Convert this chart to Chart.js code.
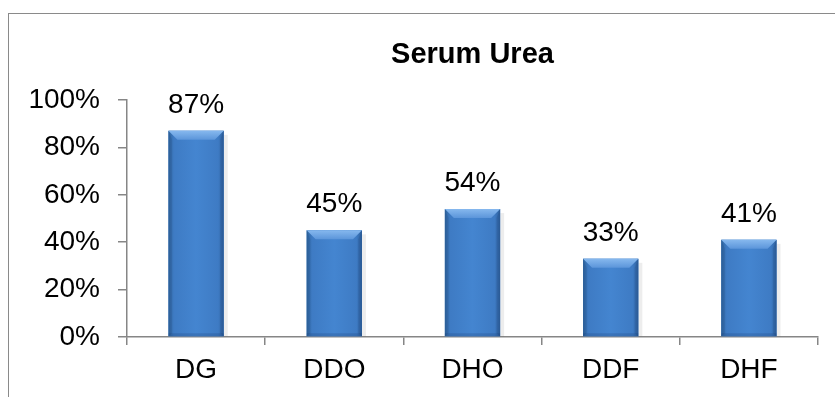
<!DOCTYPE html>
<html>
<head>
<meta charset="utf-8">
<script src="https://cdn.jsdelivr.net/npm/chart.js@4/dist/chart.umd.min.js"></script>
<style>
  html, body { margin: 0; padding: 0; background: #fff; }
  #wrap { position: relative; width: 835px; height: 397px; }
  #frame { position: absolute; left: 8px; top: 13px; width: 840px; height: 400px;
           border: 1.5px solid #8a8a8a; box-sizing: border-box; }
  canvas { position: absolute; left: 0; top: 0; }
</style>
</head>
<body>
<div id="wrap">
  <div id="frame"></div>
  <canvas id="myChart" width="835" height="397"></canvas>
</div>
<script>
const categories = ["DG", "DDO", "DHO", "DDF", "DHF"];
const ureaValues = [87, 45, 54, 33, 41];
const tickValues = [0, 20, 40, 60, 80, 100];
const chartTitle = "Serum Urea";

const FONT = "'Liberation Sans', Arial, sans-serif";

const helpers = {};

// shaded face, bevel on top and shadow for every bar
helpers.bevel = {
  id: "bevel",
  beforeDatasetsDraw(chart) {
    const c = chart.ctx;
    chart.getDatasetMeta(0).data.forEach((bar) => {
      const half = bar.width / 2;
      c.save();
      c.fillStyle = "rgba(0,0,0,0.07)";
      c.fillRect(bar.x + half, bar.y + 4, 4, bar.base - bar.y - 4);
      c.restore();
    });
  },
  afterDatasetsDraw(chart) {
    const c = chart.ctx;
    chart.getDatasetMeta(0).data.forEach((bar) => {
      const half = bar.width / 2;
      const l = bar.x - half, r = bar.x + half, t = bar.y, b = bar.base;
      const d = 9;
      c.save();
      // face: darker at the sides
      let g = c.createLinearGradient(l, 0, r, 0);
      g.addColorStop(0, "#30669f");
      g.addColorStop(0.1, "#3e7bc4");
      g.addColorStop(0.5, "#4485d0");
      g.addColorStop(0.9, "#3e7bc4");
      g.addColorStop(1, "#2e609c");
      c.fillStyle = g;
      c.fillRect(l, t, r - l, b - t);
      // top bevel
      g = c.createLinearGradient(0, t, 0, t + d);
      g.addColorStop(0, "#86b8ee");
      g.addColorStop(1, "#5b95da");
      c.fillStyle = g;
      c.beginPath();
      c.moveTo(l, t); c.lineTo(r, t); c.lineTo(r - d, t + d); c.lineTo(l + d, t + d);
      c.closePath(); c.fill();
      // left and right edges
      c.fillStyle = "rgba(20,50,100,0.14)";
      c.beginPath();
      c.moveTo(l, t); c.lineTo(l + d * 0.4, t + d); c.lineTo(l + d * 0.4, b - 3); c.lineTo(l, b);
      c.closePath(); c.fill();
      c.beginPath();
      c.moveTo(r, t); c.lineTo(r - d * 0.4, t + d); c.lineTo(r - d * 0.4, b - 3); c.lineTo(r, b);
      c.closePath(); c.fill();
      // bottom edge
      c.fillStyle = "rgba(20,50,100,0.2)";
      c.fillRect(l, b - 3, r - l, 3);
      c.restore();
    });
  },
};

// value labels above bars, title centred over the plot
helpers.labels = {
  id: "labels",
  afterDraw(chart) {
    const c = chart.ctx;
    const area = chart.chartArea;
    c.save();
    c.fillStyle = "#000";
    c.textAlign = "center";
    c.textBaseline = "alphabetic";
    c.font = "28px " + FONT;
    chart.getDatasetMeta(0).data.forEach((bar, i) => {
      c.fillText(ureaValues[i] + "%", bar.x, bar.y - 18);
    });
    c.font = "bold 29px " + FONT;
    c.fillText(chartTitle, (area.left + area.right) / 2, 63);
    c.restore();
  },
};

const ctx = document.getElementById("myChart").getContext("2d");

const chart = new Chart(ctx, {
  type: "bar",
  data: {
    labels: categories,
    datasets: [
      {
        label: chartTitle,
        data: ureaValues,
        backgroundColor: "#4282cf",
        borderWidth: 0,
        categoryPercentage: 0.8,
        barPercentage: 0.5,
      },
    ],
  },
  options: {
    responsive: false,
    animation: false,
    devicePixelRatio: 1,
    layout: { padding: { top: 100, right: 17, left: 0, bottom: 0 } },
    plugins: {
      legend: { display: false },
      title: { display: false },
      tooltip: { enabled: false },
    },
    scales: {
      x: {
        grid: {
          display: true,
          drawOnChartArea: false,
          offset: true,
          color: "#868686",
          tickLength: 8,
          lineWidth: 1.5,
        },
        border: { color: "#868686", width: 1.5 },
        ticks: { color: "#000", font: { family: FONT, size: 28 }, padding: 8 },
        afterFit: (scale) => { scale.height = 60; },
      },
      y: {
        min: 0,
        max: 100,
        afterBuildTicks: (scale) => {
          scale.ticks = tickValues.map((v) => ({ value: v }));
        },
        grid: {
          display: true,
          drawOnChartArea: false,
          color: "#868686",
          tickLength: 9,
          lineWidth: 1.5,
        },
        border: { color: "#868686", width: 1.5 },
        ticks: {
          color: "#000",
          font: { family: FONT, size: 28 },
          padding: 18,
          callback: (v) => v + "%",
        },
        afterFit: (scale) => { scale.width = 127; },
      },
    },
  },
  plugins: [helpers.bevel, helpers.labels],
});
</script>
</body>
</html>
